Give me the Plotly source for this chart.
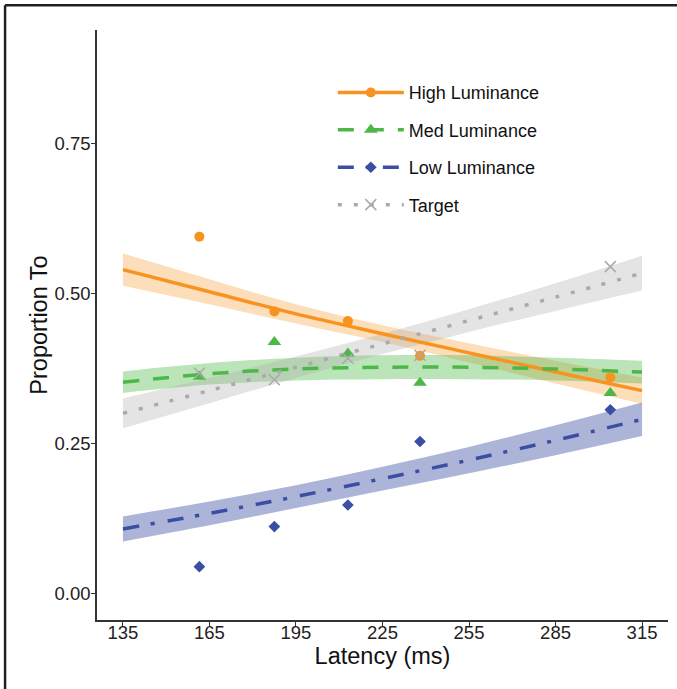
import plotly.graph_objects as go

# ---- data ----
latency = [161.5, 187.5, 213, 238, 304]
high_pts = [0.595, 0.470, 0.454, 0.396, 0.360]
med_pts = [0.361, 0.419, 0.400, 0.351, 0.334]
low_pts = [0.044, 0.111, 0.147, 0.253, 0.306]
target_pts = [0.367, 0.356, 0.392, 0.397, 0.545]

fit_x = [135, 165, 195, 225, 255, 285, 315]
high_fit = [0.540, 0.503, 0.466, 0.433, 0.401, 0.369, 0.338]
high_lo = [0.513, 0.482, 0.450, 0.419, 0.385, 0.350, 0.316]
high_hi = [0.567, 0.524, 0.482, 0.447, 0.417, 0.388, 0.360]
med_fit = [0.352, 0.366, 0.374, 0.377, 0.377, 0.374, 0.369]
med_lo = [0.334, 0.348, 0.355, 0.357, 0.357, 0.355, 0.350]
med_hi = [0.370, 0.384, 0.393, 0.397, 0.397, 0.393, 0.388]
low_fit = [0.107, 0.133, 0.161, 0.191, 0.222, 0.255, 0.290]
low_lo = [0.086, 0.113, 0.142, 0.171, 0.200, 0.230, 0.262]
low_hi = [0.128, 0.153, 0.180, 0.211, 0.244, 0.280, 0.318]
target_fit = [0.300, 0.338, 0.377, 0.416, 0.455, 0.494, 0.534]
target_lo = [0.275, 0.317, 0.359, 0.399, 0.436, 0.471, 0.505]
target_hi = [0.325, 0.359, 0.395, 0.433, 0.474, 0.517, 0.563]

x_ticks = [135, 165, 195, 225, 255, 285, 315]
y_ticks = [0.00, 0.25, 0.50, 0.75]
y_ticktext = ["0.00", "0.25", "0.50", "0.75"]

series = [
    dict(name="High Luminance", pts=high_pts, fit=high_fit, lo=high_lo, hi=high_hi,
         color="#F7931E", band="rgba(247,147,30,0.30)", dash="solid",
         symbol="circle", msize=10, mline=0),
    dict(name="Med Luminance", pts=med_pts, fit=med_fit, lo=med_lo, hi=med_hi,
         color="#4DB848", band="rgba(77,184,72,0.38)", dash="16px,14px",
         symbol="triangle-up", msize=12, mline=0),
    dict(name="Low Luminance", pts=low_pts, fit=low_fit, lo=low_lo, hi=low_hi,
         color="#3A4FA3", band="rgba(58,79,163,0.42)", dash="16px,12px,4px,13px",
         symbol="diamond", msize=9, mline=0),
    dict(name="Target", pts=target_pts, fit=target_fit, lo=target_lo, hi=target_hi,
         color="#AAAAAA", band="rgba(170,170,170,0.32)", dash="4px,12px",
         symbol="x-thin", msize=11, mline=1.5),
]

fig = go.Figure()

# ribbons
for s in series:
    fig.add_trace(go.Scatter(x=fit_x, y=s["lo"], mode="lines", line=dict(width=0, shape="spline"),
                             showlegend=False, hoverinfo="skip"))
    fig.add_trace(go.Scatter(x=fit_x, y=s["hi"], mode="lines", line=dict(width=0, shape="spline"),
                             fill="tonexty", fillcolor=s["band"], showlegend=False, hoverinfo="skip"))
# fitted lines
for s in series:
    fig.add_trace(go.Scatter(x=fit_x, y=s["fit"], mode="lines",
                             line=dict(color=s["color"], width=3.5, dash=s["dash"], shape="spline"),
                             showlegend=False))
# points
for s in series:
    mk = dict(color=s["color"], size=s["msize"], symbol=s["symbol"])
    if s["mline"]:
        mk["line"] = dict(color=s["color"], width=s["mline"])
    fig.add_trace(go.Scatter(x=latency, y=s["pts"], mode="markers", marker=mk, showlegend=False))
# legend entries
for i, s in enumerate(series):
    mk = dict(color=s["color"], size=s["msize"], symbol=s["symbol"])
    if s["mline"]:
        mk["line"] = dict(color=s["color"], width=s["mline"])
    fig.add_trace(go.Scatter(x=[None], y=[None], mode="lines+markers", name=s["name"],
                             line=dict(color=s["color"], width=3.5, dash=s["dash"]),
                             marker=mk, legendgroup=f"g{i}", showlegend=True))

font_family = "Liberation Sans, Arial, Helvetica, sans-serif"

fig.update_layout(
    width=677, height=689,
    margin=dict(l=97, r=9, t=30, b=69, autoexpand=False),
    paper_bgcolor="white", plot_bgcolor="white",
    font=dict(family=font_family, color="#222222"),
    showlegend=True,
    legend=dict(x=0.413, y=0.925, xanchor="left", yanchor="top",
                font=dict(size=18, color="#111111"), bgcolor="rgba(0,0,0,0)",
                traceorder="grouped", tracegroupgap=11, itemwidth=66),
    xaxis=dict(range=[126, 324], tickvals=x_ticks, ticks="outside", ticklen=4,
               tickcolor="#333333", tickwidth=1, showline=True, linecolor="#333333",
               linewidth=1.5, showgrid=False, zeroline=False, automargin=False,
               ticklabelstandoff=-9,
               tickfont=dict(size=18.5, color="#222222"),
               title=dict(text="Latency (ms)", font=dict(size=23.5, color="#111111"), standoff=4)),
    yaxis=dict(range=[-0.045, 0.94], tickvals=y_ticks, ticktext=y_ticktext, ticks="outside",
               ticklen=4, tickcolor="#333333", tickwidth=1, showline=True, linecolor="#333333",
               linewidth=1.5, showgrid=False, zeroline=False, automargin=False,
               ticklabelstandoff=-3,
               tickfont=dict(size=18.5, color="#222222"),
               title=dict(text="Proportion To", font=dict(size=23.5, color="#111111"), standoff=0)),
    shapes=[
        dict(type="line", xref="paper", yref="paper", x0=-0.161, x1=-0.161, y0=1.042, y1=-0.2,
             line=dict(color="#231F20", width=2.5)),
        dict(type="line", xref="paper", yref="paper", x0=-0.161, x1=1.2, y0=1.042, y1=1.042,
             line=dict(color="#231F20", width=2.5)),
    ],
)

fig.write_html("out.html", config={"displayModeBar": False},
               post_script="document.body.style.margin='0px';document.body.style.overflow='hidden';")
